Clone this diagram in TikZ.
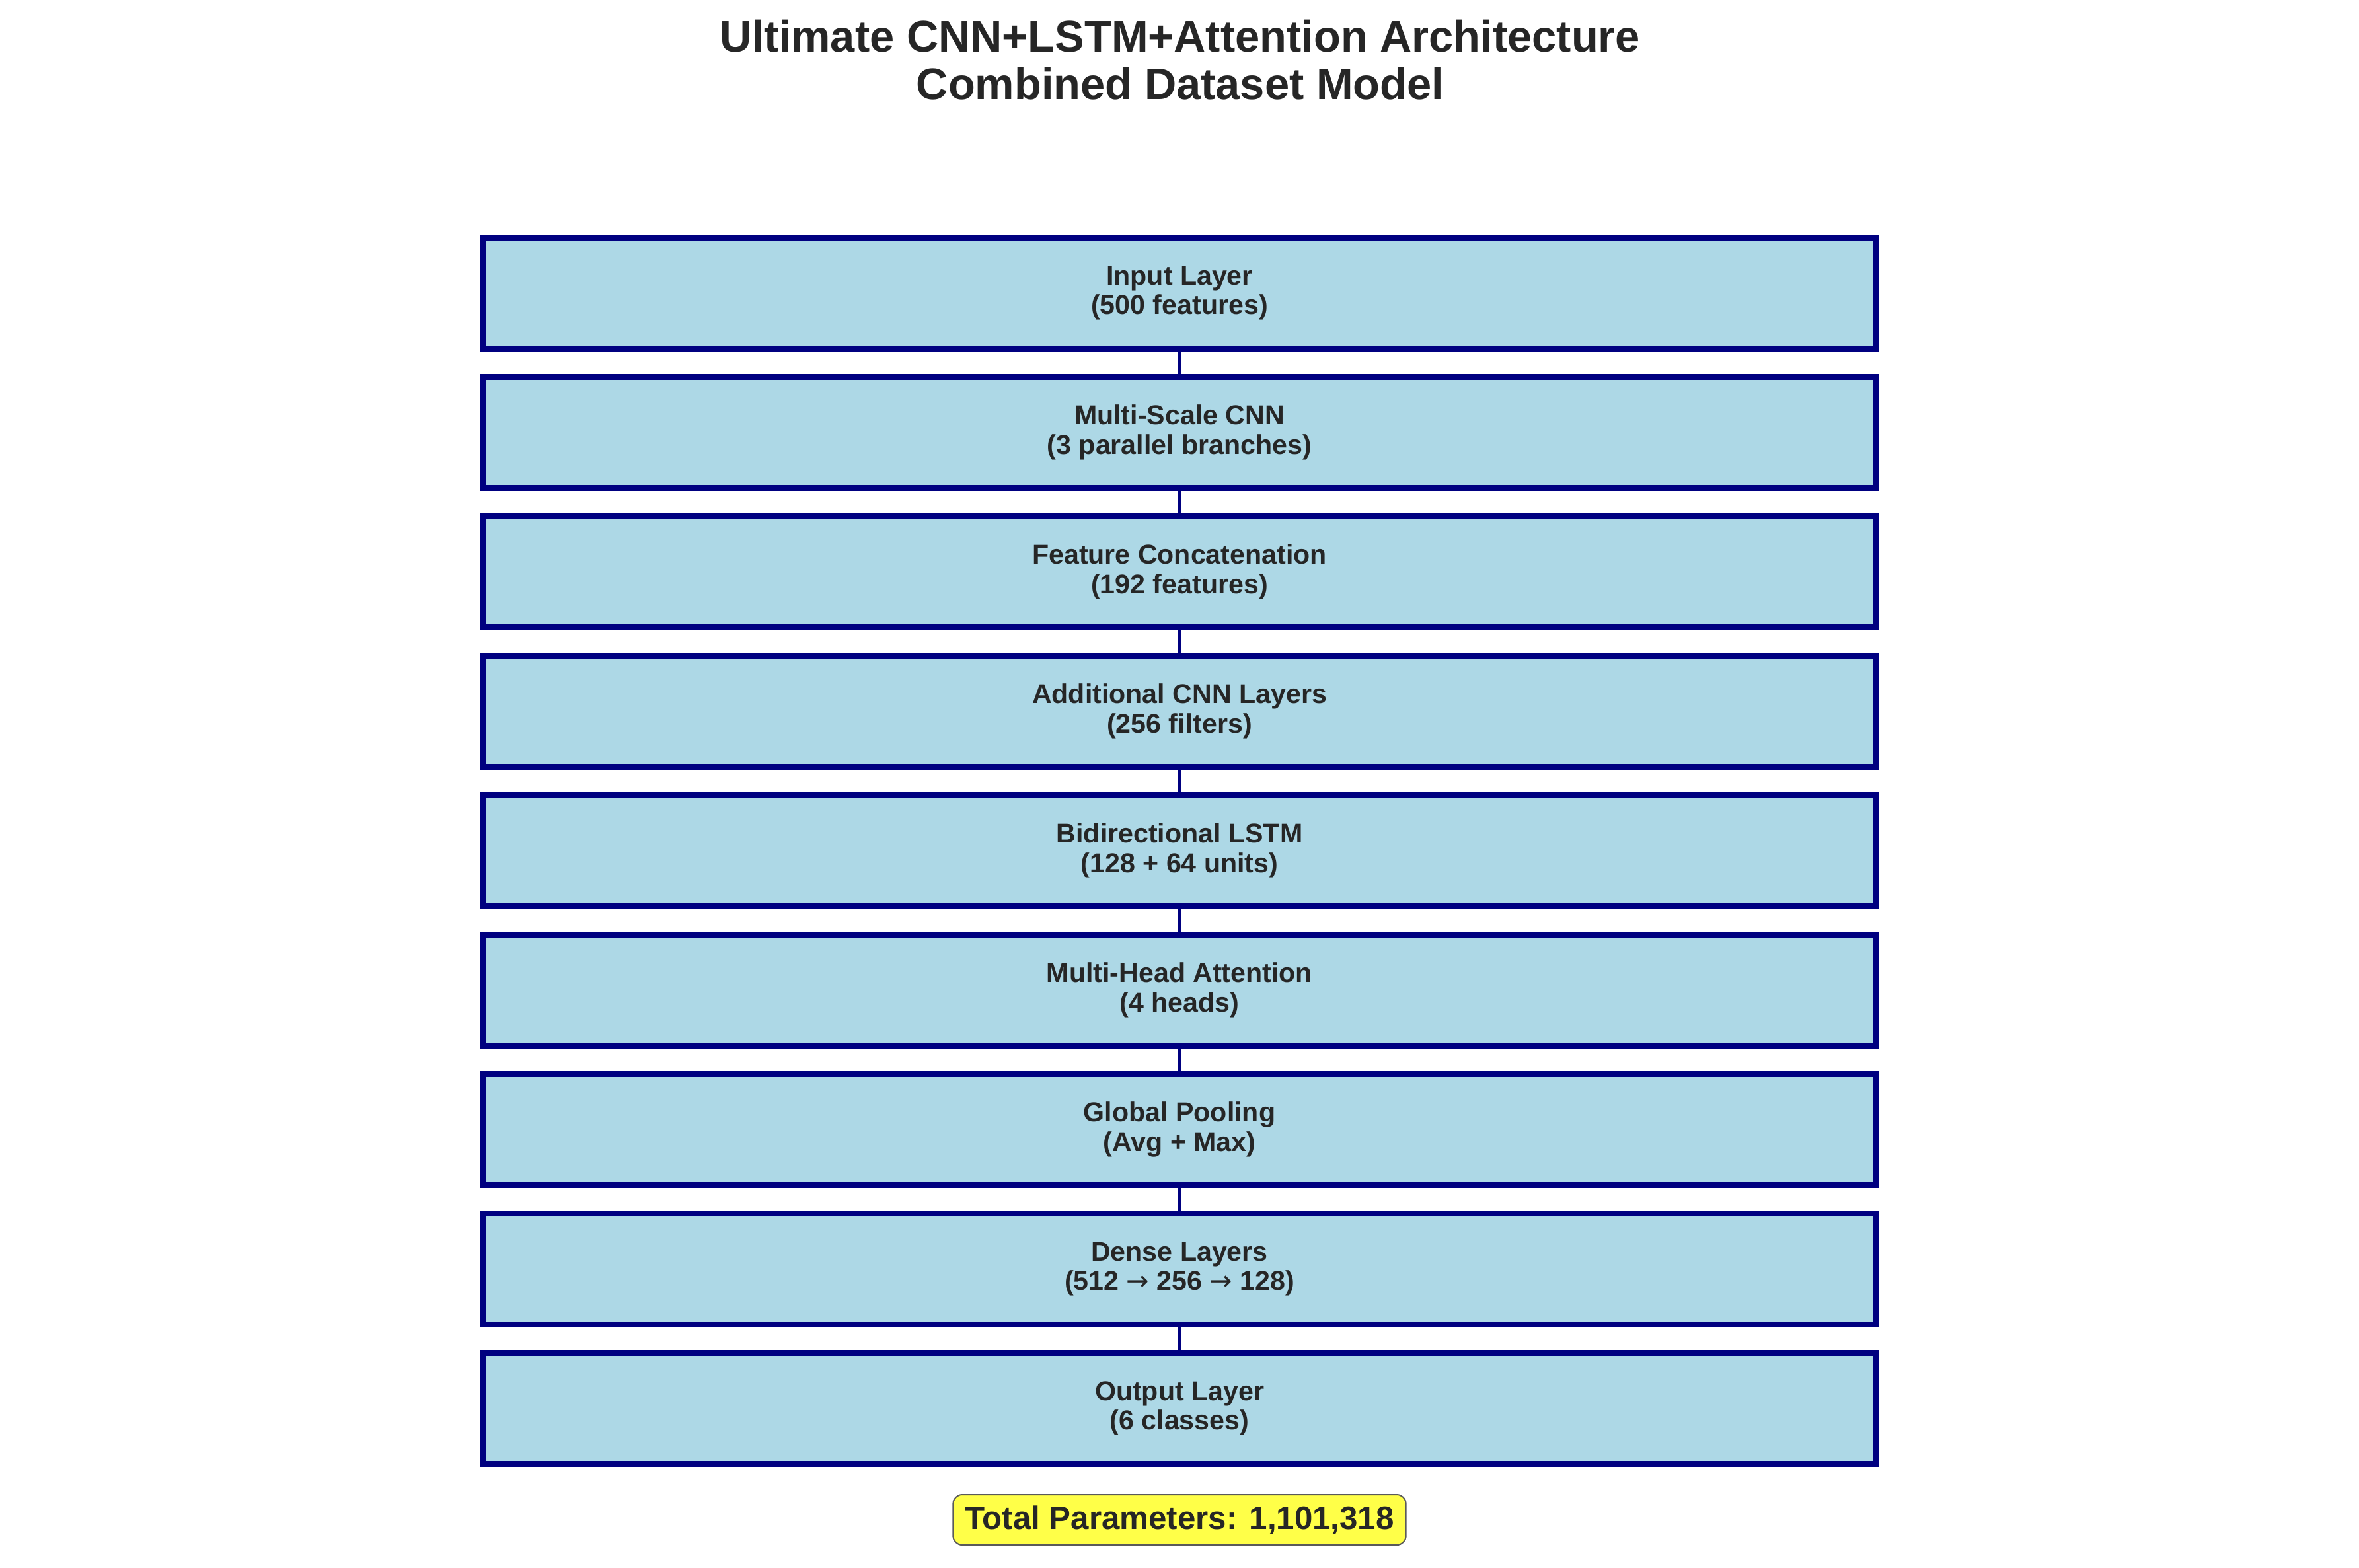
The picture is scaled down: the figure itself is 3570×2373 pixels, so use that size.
\documentclass[tikz,border=0pt]{standalone}
\usepackage{fontspec}
\setmainfont{Liberation Sans}
\newfontfamily\arrowfont{DejaVu Sans}
\definecolor{boxfill}{HTML}{ADD8E6}
\definecolor{boxline}{HTML}{000080}
\definecolor{txt}{HTML}{262626}
\definecolor{parfill}{HTML}{FFFF48}
\definecolor{parline}{HTML}{5A5A5A}
\newcommand{\rarr}{{\arrowfont\mdseries →}}
\begin{document}
\begin{tikzpicture}[x=0.01cm,y=-0.01cm,
  layerbox/.style={draw=boxline, fill=boxfill, line width=0.085cm,
    minimum width=21.06cm, minimum height=1.68cm, inner sep=0pt, outer sep=0pt,
    align=center, text=txt,
    font=\fontsize{11.7pt}{12.6pt}\selectfont\bfseries},
  link/.style={draw=boxline, line width=0.045cm},
  titletext/.style={anchor=base, text=txt, inner sep=0pt,
    font=\fontsize{19pt}{20.5pt}\selectfont\bfseries},
  parbox/.style={draw=parline, fill=parfill, line width=0.02cm, rounded corners=0.14cm,
    minimum width=6.85cm, minimum height=0.76cm, inner sep=0pt, text=txt,
    font=\fontsize{14pt}{16pt}\selectfont\bfseries}]
\useasboundingbox[fill=white] (0,0) rectangle (3570,2373);

\node[titletext] (title1) at (1786,79) {Ultimate CNN+LSTM+Attention Architecture};
\node[titletext] (title2) at (1786,151) {Combined Dataset Model};

\node[layerbox] (l1) at (1785,443.5) {Input Layer\\(500 features)};
\node[layerbox] (l2) at (1785,654.5) {Multi-Scale CNN\\(3 parallel branches)};
\node[layerbox] (l3) at (1785,865.5) {Feature Concatenation\\(192 features)};
\node[layerbox] (l4) at (1785,1076.5) {Additional CNN Layers\\(256 filters)};
\node[layerbox] (l5) at (1785,1287.5) {Bidirectional LSTM\\(128 + 64 units)};
\node[layerbox] (l6) at (1785,1498.5) {Multi-Head Attention\\(4 heads)};
\node[layerbox] (l7) at (1785,1709.5) {Global Pooling\\(Avg + Max)};
\node[layerbox] (l8) at (1785,1920.5) {Dense Layers\\(512 \rarr{} 256 \rarr{} 128)};
\node[layerbox] (l9) at (1785,2131.5) {Output Layer\\(6 classes)};

\foreach \a/\b in {l1/l2,l2/l3,l3/l4,l4/l5,l5/l6,l6/l7,l7/l8,l8/l9}
  \draw[link] (\a.south) -- (\b.north);

\node[parbox] (params) at (1785,2300) {Total Parameters: 1,101,318};
\end{tikzpicture}
\end{document}
